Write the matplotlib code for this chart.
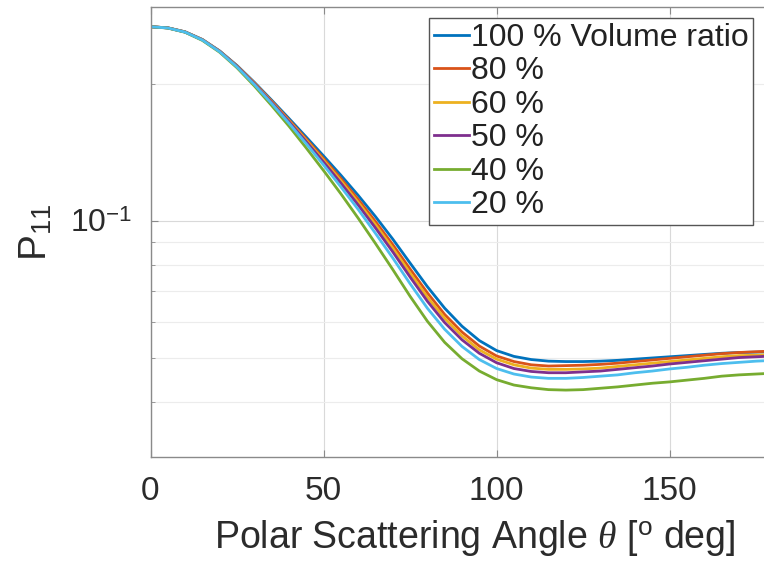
import numpy as np
import matplotlib
matplotlib.use("Agg")
import matplotlib.pyplot as plt
from matplotlib.ticker import LogLocator, NullFormatter, FixedLocator

plt.rcParams['font.family'] = ['Liberation Sans', 'DejaVu Sans']
plt.rcParams['mathtext.fontset'] = 'custom'
plt.rcParams['mathtext.rm'] = 'Liberation Sans'
plt.rcParams['mathtext.it'] = 'Liberation Serif:italic'

# polar angle in degrees
theta = [0, 5, 10, 15, 20, 25, 30, 35, 40, 45, 50, 55, 60, 65, 70, 75, 80, 85, 90,
         95, 100, 105, 110, 115, 120, 125, 130, 135, 140, 145, 150, 155, 160, 165,
         170, 175, 180]

# P11 for each volume ratio
p100 = [0.267, 0.2655, 0.2602, 0.2503, 0.2362, 0.2194, 0.2016, 0.1842, 0.1679, 0.1528,
        0.1389, 0.1260, 0.1138, 0.1022, 0.0912, 0.0808, 0.0717, 0.0643, 0.0587, 0.0546,
        0.0519, 0.0504, 0.0496, 0.0492, 0.0491, 0.0491, 0.0492, 0.0494, 0.0497, 0.0500,
        0.0503, 0.0506, 0.0509, 0.0512, 0.0514, 0.0515, 0.0516]
p80 = [0.267, 0.2655, 0.2601, 0.2501, 0.2359, 0.2189, 0.2009, 0.1833, 0.1667, 0.1513,
       0.1371, 0.1239, 0.1115, 0.0997, 0.0887, 0.0784, 0.0695, 0.0623, 0.0570, 0.0531,
       0.0505, 0.0491, 0.0483, 0.0480, 0.0481, 0.0482, 0.0484, 0.0487, 0.0491, 0.0495,
       0.0499, 0.0503, 0.0507, 0.0511, 0.0514, 0.0516, 0.0518]
p60 = [0.267, 0.2654, 0.2600, 0.2500, 0.2357, 0.2186, 0.2005, 0.1827, 0.1659, 0.1503,
       0.1359, 0.1225, 0.1099, 0.0981, 0.0871, 0.0768, 0.0680, 0.0611, 0.0559, 0.0521,
       0.0497, 0.0483, 0.0475, 0.0472, 0.0472, 0.0473, 0.0475, 0.0479, 0.0483, 0.0487,
       0.0491, 0.0495, 0.0499, 0.0503, 0.0506, 0.0507, 0.0509]
p50 = [0.267, 0.2654, 0.2599, 0.2498, 0.2355, 0.2183, 0.2000, 0.1821, 0.1652, 0.1493,
       0.1347, 0.1211, 0.1084, 0.0965, 0.0855, 0.0753, 0.0666, 0.0598, 0.0548, 0.0512,
       0.0488, 0.0474, 0.0467, 0.0464, 0.0464, 0.0466, 0.0468, 0.0472, 0.0476, 0.0480,
       0.0485, 0.0489, 0.0493, 0.0497, 0.0501, 0.0503, 0.0505]
p40 = [0.267, 0.2652, 0.2596, 0.2491, 0.2346, 0.2169, 0.1979, 0.1792, 0.1615, 0.1446,
       0.1290, 0.1147, 0.1014, 0.0892, 0.0782, 0.0683, 0.0602, 0.0541, 0.0498, 0.0468,
       0.0448, 0.0436, 0.0430, 0.0426, 0.0425, 0.0426, 0.0429, 0.0432, 0.0436, 0.0440,
       0.0443, 0.0447, 0.0451, 0.0456, 0.0459, 0.0461, 0.0463]
p20 = [0.267, 0.2653, 0.2598, 0.2496, 0.2352, 0.2178, 0.1993, 0.1811, 0.1639, 0.1477,
       0.1327, 0.1188, 0.1060, 0.0939, 0.0829, 0.0728, 0.0643, 0.0578, 0.0530, 0.0496,
       0.0474, 0.0461, 0.0454, 0.0451, 0.0451, 0.0453, 0.0456, 0.0459, 0.0464, 0.0468,
       0.0473, 0.0477, 0.0482, 0.0486, 0.0489, 0.0492, 0.0494]

labels = ['100 % Volume ratio', '80 %', '60 %', '50 %', '40 %', '20 %']
series = [p100, p80, p60, p50, p40, p20]
colors = ['#0072BD', '#D95319', '#EDB120', '#7E2F8E', '#77AC30', '#4DBEEE']

W, H = 764, 563
fig = plt.figure(figsize=(W / 100, H / 100), dpi=100)
# axes runs a little past the right edge, as in the cropped original
ax = fig.add_axes([150.5 / W, 1 - 457 / H, 623 / W, (457 - 7) / H])

for y, c, lab in zip(series, colors, labels):
    ax.plot(theta, y, color=c, lw=2, label=lab)

ax.set_yscale('log')
ax.set_xlim(0, 180)
ax.set_ylim(0.0303, 0.295)

ax.xaxis.set_major_locator(FixedLocator([0, 50, 100, 150]))
ax.yaxis.set_major_locator(FixedLocator([0.1]))
ax.yaxis.set_major_formatter(plt.FuncFormatter(lambda v, p: r'10$^{-1}$'))
ax.yaxis.set_minor_locator(LogLocator(base=10, subs=np.arange(2, 10)))
ax.yaxis.set_minor_formatter(NullFormatter())

ax.grid(True, which='major', color='#d9d9d9', lw=0.8)
ax.grid(True, which='minor', axis='y', color='#ececec', lw=0.8)

for s in ['left', 'bottom', 'top']:
    ax.spines[s].set_color('#8a8a8a')
    ax.spines[s].set_linewidth(1.0)
ax.spines['right'].set_visible(False)

ax.tick_params(axis='both', which='both', direction='in', colors='#8a8a8a',
               labelcolor='#2b2b2b', labelsize=24, top=True)
ax.tick_params(axis='x', which='major', length=5, pad=14)
ax.tick_params(axis='y', which='major', length=5, pad=13, labelsize=23)
ax.tick_params(axis='y', which='minor', length=3)

ax.set_xlabel(r'Polar Scattering Angle $\theta$ [$^{\rm o}$ deg]', fontsize=27,
              color='#2b2b2b')
ax.xaxis.set_label_coords(0.52, -0.135)
ax.set_ylabel(r'P$_{11}$', fontsize=28, color='#2b2b2b')
ax.yaxis.set_label_coords(-0.155, 0.5)

leg = ax.legend(loc='upper left', bbox_to_anchor=(429 / W, 1 - 18 / H),
                bbox_transform=fig.transFigure, borderaxespad=0, fontsize=23,
                handlelength=1.1, handletextpad=0.05, labelspacing=0.11,
                borderpad=0.15, fancybox=False, framealpha=1)
leg.get_frame().set_edgecolor('#555555')
leg.get_frame().set_linewidth(1.0)
for t in leg.get_texts():
    t.set_color('#222222')

fig.savefig('out.png', dpi=100)
